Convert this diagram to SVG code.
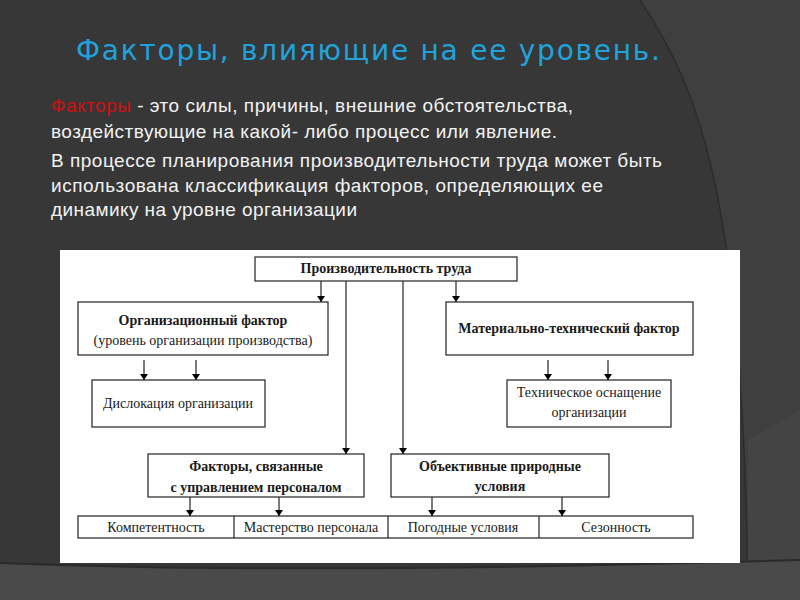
<svg xmlns="http://www.w3.org/2000/svg" width="800" height="600" viewBox="0 0 800 600">
<defs>
<marker id="ah" markerWidth="6" markerHeight="8" refX="6" refY="4" orient="auto" markerUnits="userSpaceOnUse">
<path d="M0,0 L6,4 L0,8 Z" fill="#000"/>
</marker>
<style>
.box{fill:#fff;stroke:#222;stroke-width:1.2}
.cn{stroke:#222;stroke-width:1.2;fill:none}
.ar{marker-end:url(#ah)}
.t{font-family:"Liberation Serif","Times New Roman",serif;font-size:14px;fill:#1a1a1a;text-anchor:middle}
.b{font-weight:bold}
.body{font-family:"Liberation Sans",Arial,sans-serif;font-size:19px;fill:#f2f2f2}
</style>
</defs>
<rect x="0" y="0" width="800" height="600" fill="#373737"/>
<path d="M640,0 C700,90 744,200 748,600 L800,600 L800,0 Z" fill="#3f3f3f"/>
<path d="M640,0 C700,90 744,200 748,600" fill="none" stroke="#2c2c2c" stroke-width="1.5"/>
<path d="M748,440 L800,410 L800,600 L748,600 Z" fill="#444"/>
<path d="M0,563 Q300,575 800,560 L800,600 L0,600 Z" fill="#4a4a4a"/>
<path d="M0,563 Q300,575 800,560" fill="none" stroke="#2a2a2a" stroke-width="2"/>

<text x="76" y="60" font-family="'DejaVu Sans',Verdana,sans-serif" font-size="28" fill="#1fa3dc" textLength="584" lengthAdjust="spacing">Факторы, влияющие на ее уровень.</text>

<g id="body-text" class="body">
<text x="51" y="112" textLength="522" lengthAdjust="spacing"><tspan fill="#d01010">Факторы</tspan> - это силы, причины, внешние обстоятельства,</text>
<text x="51" y="138" textLength="506" lengthAdjust="spacing">воздействующие на какой- либо процесс или явление.</text>
<text x="51" y="167" textLength="611" lengthAdjust="spacing">В процессе планирования производительности труда может быть</text>
<text x="51" y="192" textLength="552" lengthAdjust="spacing">использована классификация факторов, определяющих ее</text>
<text x="51" y="216" textLength="306" lengthAdjust="spacing">динамику на уровне организации</text>
</g>

<rect x="60" y="250" width="680" height="313" fill="#fff"/>

<g id="connectors">
<line class="cn ar" x1="321" y1="281" x2="321" y2="302"/>
<line class="cn ar" x1="456" y1="281" x2="456" y2="302"/>
<line class="cn ar" x1="346" y1="281" x2="346" y2="454"/>
<line class="cn ar" x1="403" y1="281" x2="403" y2="454"/>
<line class="cn ar" x1="144" y1="360" x2="144" y2="380"/>
<line class="cn ar" x1="196" y1="360" x2="196" y2="380"/>
<line class="cn ar" x1="548" y1="360" x2="548" y2="380"/>
<line class="cn ar" x1="608" y1="360" x2="608" y2="380"/>
<line class="cn ar" x1="190" y1="497" x2="190" y2="516"/>
<line class="cn ar" x1="279" y1="497" x2="279" y2="516"/>
<line class="cn ar" x1="432" y1="497" x2="432" y2="516"/>
<line class="cn ar" x1="562" y1="497" x2="562" y2="516"/>
</g>

<g id="top">
<rect class="box" x="255" y="257" width="262" height="24"/>
<text class="t b" x="386" y="273">Производительность труда</text>
</g>
<g id="org">
<rect class="box" x="78" y="302" width="250" height="53"/>
<text class="t b" x="203" y="325">Организационный фактор</text>
<text class="t" x="203" y="345">(уровень организации производства)</text>
</g>
<g id="mat">
<rect class="box" x="446" y="302" width="247" height="53"/>
<text class="t b" x="569" y="333">Материально-технический фактор</text>
</g>
<g id="disloc">
<rect class="box" x="92" y="380" width="173" height="47"/>
<text class="t" x="178" y="408">Дислокация организации</text>
</g>
<g id="tech">
<rect class="box" x="507" y="380" width="164" height="47"/>
<text class="t" x="589" y="397">Техническое оснащение</text>
<text class="t" x="589" y="417">организации</text>
</g>
<g id="personnel">
<rect class="box" x="148" y="454" width="216" height="43"/>
<text class="t b" x="256" y="471">Факторы, связанные</text>
<text class="t b" x="256" y="492">с управлением персоналом</text>
</g>
<g id="natural">
<rect class="box" x="391" y="454" width="218" height="43"/>
<text class="t b" x="500" y="471">Объективные природные</text>
<text class="t b" x="500" y="491">условия</text>
</g>
<g id="bottom-row">
<rect class="box" x="78" y="516" width="615" height="22"/>
<line class="cn" x1="234" y1="516" x2="234" y2="538"/>
<line class="cn" x1="388" y1="516" x2="388" y2="538"/>
<line class="cn" x1="539" y1="516" x2="539" y2="538"/>
<text class="t" x="156" y="532">Компетентность</text>
<text class="t" x="311" y="532">Мастерство персонала</text>
<text class="t" x="463" y="532">Погодные условия</text>
<text class="t" x="616" y="532">Сезонность</text>
</g>
</svg>
